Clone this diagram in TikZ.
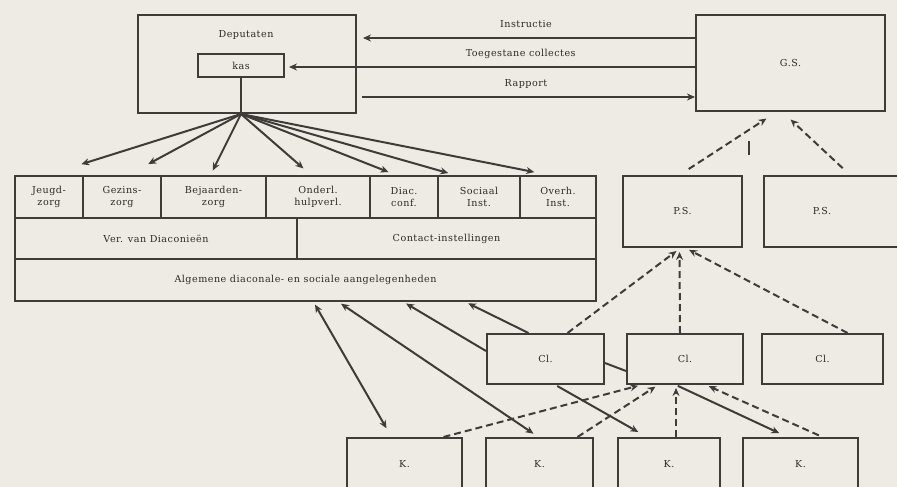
\documentclass[tikz,border=0pt]{standalone}
\usepackage{fontspec}
\setmainfont{DejaVu Serif}[LetterSpace=5]
\usepackage{tikz}
\usetikzlibrary{arrows.meta}

\definecolor{paper}{RGB}{238,235,228}
\definecolor{ink}{RGB}{62,60,56}
\definecolor{inktext}{RGB}{45,43,40}
\newcommand\figfont{\fontsize{9.6}{12.5}\selectfont}

\begin{document}
\begin{tikzpicture}[x=1pt, y=-1pt, line width=2pt, color=ink,
    every node/.style={font=\figfont, text=inktext},
    box/.style={draw, rectangle, anchor=north west, inner sep=0pt, align=center},
    cell/.style={box, minimum height=42pt},
    arr/.style={-{Stealth[length=8pt,width=7pt]}},
    both/.style={{Stealth[length=8pt,width=7pt]}-{Stealth[length=8pt,width=7pt]}},
    dasharr/.style={arr, dash pattern=on 7pt off 4pt}]
    \useasboundingbox (0,0) rectangle (897,487);
    \fill[paper] (0,0) rectangle (897,487);
    \clip (0,0) rectangle (897,487);

    % top: Deputaten and G.S.
    \node[box, minimum width=218pt, minimum height=98pt] (dep) at (137,14) {};
    \node (deptxt) at (246,35) {Deputaten};
    \node[box, minimum width=86pt, minimum height=23pt] (kas) at (197,53) {kas};
    \node[box, minimum width=189pt, minimum height=96pt] (gs) at (695,14) {G.S.};

    \draw[arr, shorten >=6pt] (gs.west |- 0,38) -- (dep.east |- 0,38)
        node[midway, above=6pt] {Instructie};
    \draw[arr, shorten >=4pt] (gs.west |- 0,67) -- (kas.east |- 0,67)
        node[pos=0.425, above=4pt] {Toegestane collectes};
    \draw[arr, shorten <=5pt] (dep.east |- 0,97) -- (gs.west |- 0,97)
        node[midway, above=4pt] {Rapport};

    % table
    \node[cell, minimum width=68pt] (jeugd) at (14,175) {Jeugd-\\zorg};
    \node[cell, minimum width=78pt] (gezins) at (82,175) {Gezins-\\zorg};
    \node[cell, minimum width=105pt] (bejaarden) at (160,175) {Bejaarden-\\zorg};
    \node[cell, minimum width=104pt] (onderl) at (265,175) {Onderl.\\hulpverl.};
    \node[cell, minimum width=68pt] (diac) at (369,175) {Diac.\\conf.};
    \node[cell, minimum width=82pt] (sociaal) at (437,175) {Sociaal\\Inst.};
    \node[cell, minimum width=76pt] (overh) at (519,175) {Overh.\\Inst.};
    \node[box, minimum width=282pt, minimum height=41pt] (verdiac) at (14,217) {Ver. van Diaconieën};
    \node[box, minimum width=299pt, minimum height=41pt] (contact) at (296,217) {Contact-instellingen};
    \node[box, minimum width=581pt, minimum height=42pt] (algemeen) at (14,258) {Algemene diaconale- en sociale aangelegenheden};

    % from kas to the columns
    \coordinate (fan) at (kas.south |- dep.south);
    \draw (kas.south) -- (fan);
    \foreach \n/\dx/\s in {jeugd/-2/36, gezins/6/23, bejaarden/-3/5, onderl/-7/10,
                           diac/-8/8, sociaal/-24/7, overh/-9/15}
        \draw[arr, shorten >=\s pt] (fan) -- ([xshift=\dx pt]\n.north);

    % P.S.
    \node[box, minimum width=119pt, minimum height=71pt] (ps1) at (622,175) {P.S.};
    \node[box, minimum width=150pt, minimum height=71pt] (ps2) at (763,175) {};
    \node (ps2txt) at (822,211) {P.S.};
    \draw[dasharr, shorten <=11pt, shorten >=12pt] ([xshift=-3pt]ps1.north) -- ([xshift=-14pt]gs.south);
    \draw[dasharr, shorten <=10pt, shorten >=11pt] ([xshift=11pt]ps2.north) -- ([xshift=-8pt]gs.south);
    \draw (749,141) -- (749,155);

    % Cl.
    \node[box, minimum width=117pt, minimum height=50pt] (cl1) at (486,333) {Cl.};
    \node[box, minimum width=116pt, minimum height=50pt] (cl2) at (626,333) {Cl.};
    \node[box, minimum width=121pt, minimum height=50pt] (cl3) at (761,333) {Cl.};
    \draw[dasharr, shorten >=5pt] ([xshift=22pt]cl1.north) -- ([xshift=-2pt]ps1.south);
    \draw[dasharr, shorten >=4pt] ([xshift=-5pt]cl2.north) -- ([xshift=-3pt]ps1.south);
    \draw[dasharr, shorten >=4pt] ([xshift=25pt]cl3.north) -- ([xshift=3pt]ps1.south);

    \draw[arr, shorten >=3pt] ([yshift=8pt]cl1.west) -- ([xshift=98pt]algemeen.south);
    \draw[arr, shorten >=3pt] ([xshift=-17pt]cl1.north) -- ([xshift=160pt]algemeen.south);
    \draw ([yshift=-4pt]cl1.east) -- ([yshift=-12pt]cl2.west);

    % K.
    \node[box, minimum width=115pt, minimum height=52pt] (k1) at (346,437) {K.};
    \node[box, minimum width=107pt, minimum height=52pt] (k2) at (485,437) {K.};
    \node[box, minimum width=102pt, minimum height=52pt] (k3) at (617,437) {K.};
    \node[box, minimum width=115pt, minimum height=52pt] (k4) at (742,437) {K.};

    \draw[both, shorten <=3pt, shorten >=10pt] ([xshift=8pt]algemeen.south) -- ([xshift=-13pt]k1.north);
    \draw[both, shorten <=3pt, shorten >=6pt] ([xshift=33pt]algemeen.south) -- ([xshift=-1pt]k2.north);
    \draw[arr, shorten <=2pt, shorten >=10pt] ([xshift=10pt]cl1.south) -- ([xshift=-22pt]k3.north);
    \draw[arr, shorten <=2pt, shorten >=9pt] ([xshift=-9pt]cl2.south) -- ([xshift=-13pt]k4.north);

    \draw[dasharr, shorten >=3pt] ([xshift=39pt]k1.north) -- ([xshift=-44pt]cl2.south);
    \draw[dasharr, shorten >=3pt] ([xshift=38pt]k2.north) -- ([xshift=-27pt]cl2.south);
    \draw[dasharr, shorten >=3pt] ([xshift=7pt]k3.north) -- ([xshift=-9pt]cl2.south);
    \draw[dasharr, shorten <=4pt, shorten >=3pt] ([xshift=22pt]k4.north) -- ([xshift=21pt]cl2.south);
\end{tikzpicture}
\end{document}
